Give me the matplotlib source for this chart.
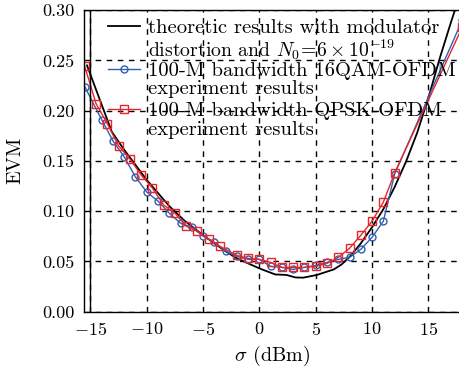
import numpy as np
import matplotlib
matplotlib.use("Agg")
import matplotlib.pyplot as plt
from matplotlib.lines import Line2D

plt.rcParams["font.family"] = ["cmr10", "DejaVu Serif"]
plt.rcParams["mathtext.fontset"] = "cm"
plt.rcParams["axes.formatter.use_mathtext"] = True

# theoretic curve
theory_x = [-15.3, -14, -13.1, -12, -11, -10, -9, -8, -6.7, -5, -4, -3, -2, -1, 0,
            0.7, 1.4, 2.4, 3.2, 3.9, 5.1, 6.6, 7.3, 8.05, 9, 10, 11, 12, 13, 14,
            15, 16, 17, 17.35]
theory_y = [0.245, 0.206, 0.179, 0.161, 0.146, 0.131, 0.118, 0.105, 0.091, 0.076,
            0.068, 0.060, 0.053, 0.048, 0.043, 0.040, 0.037, 0.0365, 0.034, 0.0338,
            0.0365, 0.042, 0.047, 0.055, 0.068, 0.084, 0.102, 0.124, 0.149, 0.178,
            0.213, 0.252, 0.288, 0.300]

# 16QAM-OFDM experiment
qam_x = [-15.5, -14, -13, -12, -11, -10, -9, -8, -7, -6, -5, -4, -3, -2, -1, 0,
         1, 2, 3, 4, 5, 6, 7, 8, 9, 10, 11, 12, 18]
qam_y = [0.224, 0.191, 0.170, 0.154, 0.134, 0.119, 0.110, 0.098, 0.088, 0.084,
         0.075, 0.069, 0.060, 0.055, 0.052, 0.052, 0.045, 0.044, 0.042, 0.044,
         0.046, 0.049, 0.052, 0.054, 0.062, 0.074, 0.090, 0.137, 0.29]

# QPSK-OFDM experiment
qpsk_x = [-15.5, -14.5, -13.5, -12.5, -11.5, -10.5, -9.5, -8.5, -7.5, -6.5, -5.5,
          -4.5, -3.5, -2, -1, 0, 1, 2, 3, 4, 5, 6, 7, 8, 9, 10, 11, 12, 18]
qpsk_y = [0.244, 0.207, 0.187, 0.165, 0.152, 0.136, 0.123, 0.106, 0.098, 0.085,
          0.080, 0.072, 0.065, 0.056, 0.053, 0.052, 0.049, 0.044, 0.044, 0.044,
          0.045, 0.048, 0.054, 0.063, 0.076, 0.090, 0.109, 0.138, 0.283]

x_ticks = [-15, -10, -5, 0, 5, 10, 15]
y_ticks = [0.00, 0.05, 0.10, 0.15, 0.20, 0.25, 0.30]

legend_lines = [
    ["theoretic results with modulator",
     r"distortion and $N_0\!=\!6\times10^{-19}$"],
    ["100-M bandwidth 16QAM-OFDM", "experiment results"],
    ["100-M bandwidth QPSK-OFDM", "experiment results"],
]

W, H = 460, 375
fig = plt.figure(figsize=(W / 100, H / 100), dpi=100)
ax = fig.add_axes([0.183, 0.169, 0.817, 0.804])

blue = "#2f5fb3"
red = "#e8262a"
styles = [
    dict(color="black", lw=1.3),
    dict(color=blue, lw=1.0, marker="o", ms=5, mfc="none", mec=blue),
    dict(color=red, lw=1.0, marker="s", ms=6, mfc="none", mec=red),
]

ax.plot(theory_x, theory_y, **styles[0])
ax.plot(qam_x, qam_y, **styles[1])
ax.plot(qpsk_x, qpsk_y, **styles[2])

ax.axvline(-15, color="black", lw=1.0)
ax.set_xlim(-15.55, 17.8)
ax.set_ylim(0, 0.30)
ax.set_xticks(x_ticks)
ax.set_yticks(y_ticks)
ax.set_yticklabels([f"{v:.2f}" for v in y_ticks])
ax.grid(True, color="black", ls=(0, (4, 4)), lw=1.0)
ax.tick_params(direction="in", length=0, labelsize=13, pad=7)
ax.spines["right"].set_visible(False)
for s in ["left", "top", "bottom"]:
    ax.spines[s].set_linewidth(1.0)

ax.set_xlabel(r"$\sigma$ (dBm)", fontsize=14.5, labelpad=4)
ax.set_ylabel("EVM", fontsize=14.5)
ax.yaxis.set_label_coords(-0.16, 0.5)

# legend drawn by hand so each handle sits on the first text row
rows = [(26, 47), (69, 87), (109, 128)]
for (r1, r2), lines, st in zip(rows, legend_lines, styles):
    y1 = 1 - r1 / H
    fig.add_artist(Line2D([108 / W, 140 / W], [y1, y1], markevery=[], **st))
    mk = {k: v for k, v in st.items() if k != "lw"}
    if "marker" in st:
        fig.add_artist(Line2D([124 / W], [y1], ls="none", **mk))
    fig.text(148 / W, y1, lines[0], fontsize=14.8, va="center_baseline")
    fs2 = 14.2 if "$" in lines[1] else 14.8
    fig.text(148 / W, 1 - r2 / H, lines[1], fontsize=fs2, va="center_baseline")

fig.savefig("out.png", dpi=100)
